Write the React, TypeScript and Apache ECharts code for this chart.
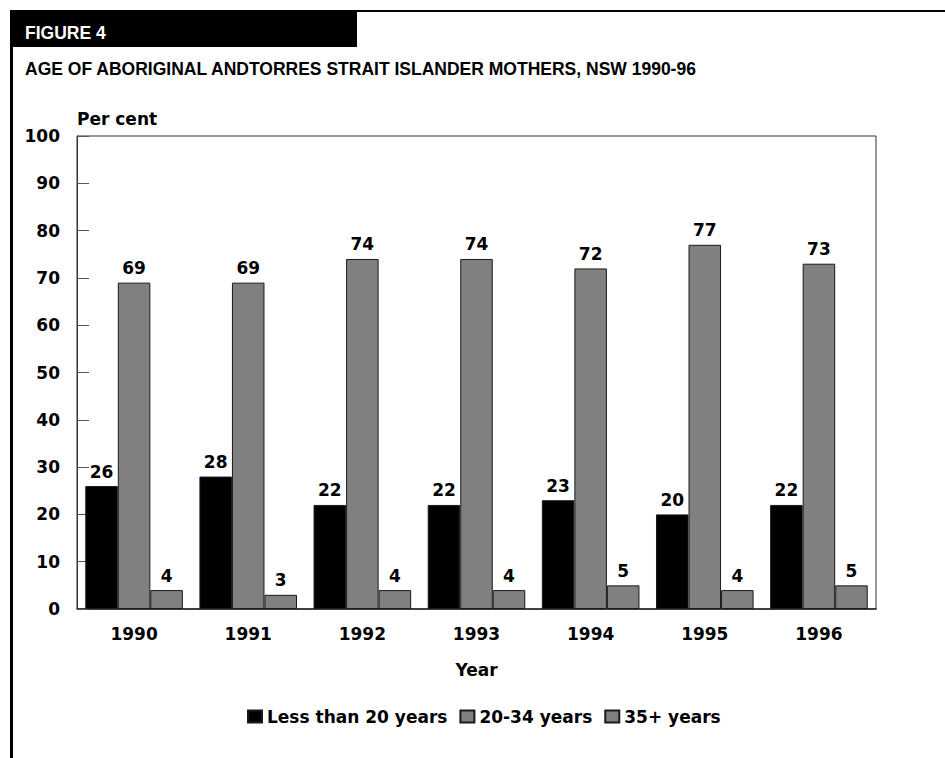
import React, { useEffect, useRef } from "react";
import * as echarts from "echarts";

// Share of births by mother's age group, Aboriginal and Torres Strait Islander mothers, NSW
const years = ["1990", "1991", "1992", "1993", "1994", "1995", "1996"];
const lessThan20 = [26, 28, 22, 22, 23, 20, 22];
const age20to34 = [69, 69, 74, 74, 72, 77, 73];
const age35plus = [4, 3, 4, 4, 5, 4, 5];
const seriesNames = ["Less than 20 years", "20-34 years", "35+ years"];

const W = 945;
const H = 758;
const CHART_FONT = "'DejaVu Sans', sans-serif";
const TITLE_FONT = "'Liberation Sans', Arial, sans-serif";

export default function App() {
  const ref = useRef<HTMLDivElement>(null);

  useEffect(() => {
    if (!ref.current) return;
    const chart = echarts.init(ref.current, undefined, { renderer: "svg", width: W, height: H });

    const labelStyle = {
      show: true,
      position: "top" as const,
      distance: 6,
      color: "#000",
      fontSize: 17,
      fontWeight: "bold" as const,
      fontFamily: CHART_FONT,
    };

    const bar = (name: string, data: number[], color: string) => ({
      name,
      type: "bar" as const,
      data,
      barGap: "0%",
      barCategoryGap: "14.5%",
      itemStyle: { color, borderColor: "#1a1a1a", borderWidth: 1 },
      label: labelStyle,
    });

    chart.setOption({
      animation: false,
      backgroundColor: "#fff",
      title: [
        {
          text: "FIGURE 4",
          left: 20,
          top: 19,
          textStyle: { color: "#fff", fontSize: 17.5, fontWeight: "bold", fontFamily: TITLE_FONT },
        },
        {
          text: "AGE OF ABORIGINAL ANDTORRES STRAIT ISLANDER MOTHERS, NSW 1990-96",
          left: 20,
          top: 55,
          textStyle: { color: "#000", fontSize: 17.5, fontWeight: "bold", fontFamily: TITLE_FONT },
        },
      ],
      graphic: [
        { type: "rect", shape: { x: 10, y: 10, width: 347, height: 37 }, style: { fill: "#000" }, z: -1 },
        { type: "line", shape: { x1: 10, y1: 11, x2: W, y2: 11 }, style: { stroke: "#000", lineWidth: 2 } },
        { type: "line", shape: { x1: 11.5, y1: 10, x2: 11.5, y2: H }, style: { stroke: "#000", lineWidth: 3 } },
      ],
      legend: {
        data: seriesNames,
        left: 247,
        top: 708,
        padding: 0,
        itemWidth: 14,
        itemHeight: 12,
        itemGap: 12,
        icon: "rect",
        textStyle: { color: "#000", fontSize: 17, fontWeight: "bold", fontFamily: CHART_FONT },
      },
      grid: {
        left: 77,
        right: W - 876,
        top: 136,
        bottom: H - 609,
        show: true,
        borderColor: "#333",
        borderWidth: 1,
        backgroundColor: "transparent",
      },
      xAxis: {
        type: "category",
        data: years,
        name: "Year",
        nameLocation: "middle",
        nameGap: 52,
        nameTextStyle: { color: "#000", fontSize: 17, fontWeight: "bold", fontFamily: CHART_FONT },
        axisLine: { lineStyle: { color: "#222", width: 1.5 } },
        axisTick: { show: false },
        axisLabel: { color: "#000", fontSize: 17, fontWeight: "bold", fontFamily: CHART_FONT, margin: 16 },
      },
      yAxis: {
        type: "value",
        min: 0,
        max: 100,
        interval: 10,
        name: "Per cent",
        nameLocation: "end",
        nameGap: 9,
        nameTextStyle: {
          color: "#000",
          fontSize: 17,
          fontWeight: "bold",
          fontFamily: CHART_FONT,
          align: "left",
          verticalAlign: "bottom",
        },
        axisLine: { show: true, lineStyle: { color: "#333", width: 1 } },
        axisTick: { show: true, inside: true, length: 12, lineStyle: { color: "#555" } },
        splitLine: { show: false },
        axisLabel: { color: "#000", fontSize: 17, fontWeight: "bold", fontFamily: CHART_FONT, margin: 17 },
      },
      series: [
        bar(seriesNames[0], lessThan20, "#000000"),
        bar(seriesNames[1], age20to34, "#808080"),
        bar(seriesNames[2], age35plus, "#808080"),
      ],
    });

    return () => chart.dispose();
  }, []);

  return (
    <div
      ref={ref}
      style={{ position: "fixed", left: 0, top: 0, width: W, height: H, background: "#fff" }}
    />
  );
}
